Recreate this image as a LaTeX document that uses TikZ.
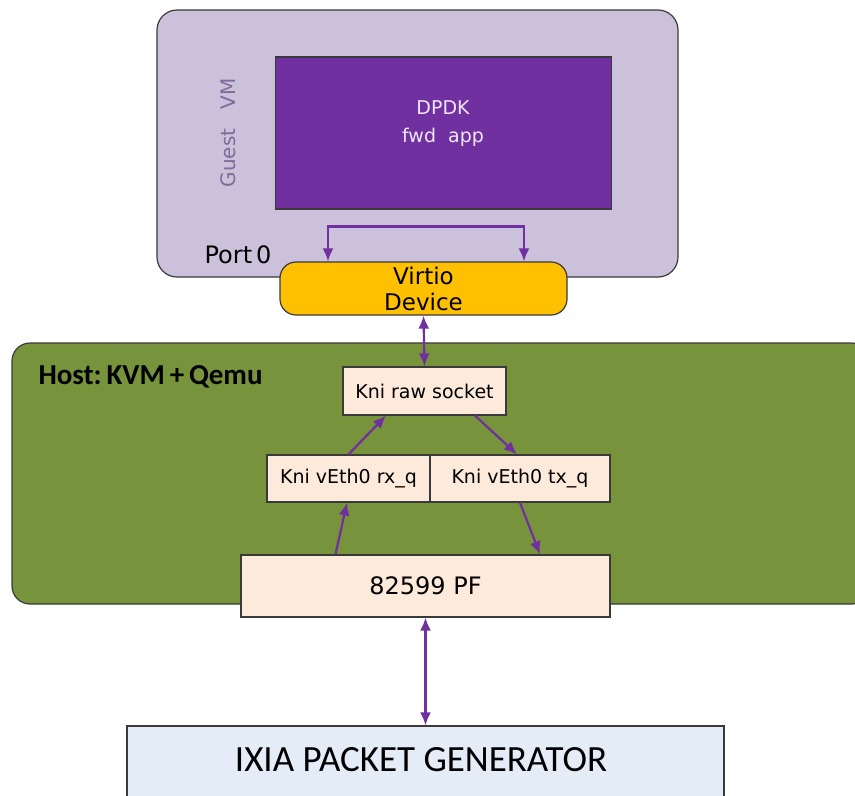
\documentclass[tikz,border=0pt]{standalone}
\usepackage{fontspec}
\setmainfont{DejaVu Sans}
\newfontfamily\calibri{Carlito}
\usetikzlibrary{arrows.meta, positioning}
\definecolor{vmlilac}{HTML}{CCC1DA}
\definecolor{vmtext}{HTML}{7F6A99}
\definecolor{apppurple}{HTML}{7030A0}
\definecolor{virtioamber}{HTML}{FFC000}
\definecolor{hostgreen}{HTML}{77933C}
\definecolor{qpeach}{HTML}{FDEADA}
\definecolor{ixiablue}{HTML}{E4ECF7}
\definecolor{edge}{HTML}{3A3A3A}
\tikzstyle{box}=[draw=edge, line width=1.2pt, fill=qpeach, inner sep=0pt]
\tikzstyle{flow}=[apppurple, line width=2.2pt]
\newcommand{\px}[2]{\fontsize{#1}{#2}\selectfont}

\begin{document}
\begin{tikzpicture}[>={Latex[length=13pt, width=11pt]}, x=1pt, y=-1pt]
\useasboundingbox (0,0) rectangle (855,796);
\clip (0,0) rectangle (855,796);
% guest side
\node[draw=edge, line width=1.2pt, fill=vmlilac, rounded corners=20pt, inner sep=0pt, minimum width=521pt, minimum height=267pt] at (417.5,143.5) (guest_vm) {};
\node[draw=edge, line width=1.2pt, fill=apppurple, inner sep=0pt, minimum width=336pt, minimum height=152pt] at (443.5,133) (dpdk) {};
\node[text=white!88!apppurple, align=center, font=\px{19}{28}] at (443,124) (dpdk_txt) {DPDK\\fwd\ \ app};
\node[rotate=90, text=vmtext, font=\px{20}{22}] at (228,133) (vm_txt) {Guest\ \ \ VM};
\node[font=\px{24}{26}] at (238,255) (port_txt) {Port\,0};
% host side
\node[draw=edge, line width=1.2pt, fill=hostgreen, rounded corners=18pt, inner sep=0pt, minimum width=858pt, minimum height=261pt] at (441,473.5) (host) {};
\node[anchor=west, font=\calibri\bfseries\px{29}{30}] at (35,377) (host_txt) {Host:\,KVM\,+\,Qemu};
\node[box, minimum width=163pt, minimum height=48pt, font=\px{19}{22}] at (424.5,391) (raw_sock) {Kni raw socket};
\node[box, minimum width=163pt, minimum height=47pt, font=\px{19}{22}] at (348.5,478.5) (rx_q) {Kni vEth0 rx\_q};
\node[box, minimum width=180pt, minimum height=47pt, font=\px{19}{22}] at (520,478.5) (tx_q) {Kni vEth0 tx\_q};
\node[box, minimum width=369pt, minimum height=62pt, font=\px{24}{26}] at (425.5,586) (pf) {82599 PF};
\node[draw=edge, line width=1.2pt, fill=virtioamber, rounded corners=16pt, inner sep=0pt, align=center, minimum width=287pt, minimum height=53pt, font=\px{23}{26}] at (423.5,288.5) (virtio) {Virtio\\Device};
% generator
\node[draw=edge, line width=1.2pt, fill=ixiablue, inner sep=0pt, minimum width=597pt, minimum height=110pt] at (425.5,781) (ixia) {};
\node[font=\calibri\px{37}{40}] at (421,760) (ixia_txt) {IXIA PACKET GENERATOR};
% flows
\draw[flow, <->] ([xshift=-95.5pt]virtio.north) -- ++(0,-35) -| ([xshift=100.5pt]virtio.north);
\draw[flow, <->] (virtio.south) -- (raw_sock.north);
\draw[flow, ->] (rx_q.north) -- ([xshift=-38.5pt]raw_sock.south);
\draw[flow, ->] ([xshift=50.5pt]raw_sock.south) -- ([xshift=-3pt]tx_q.north);
\draw[flow, ->] ([xshift=-90pt]pf.north) -- ([xshift=-1.5pt]rx_q.south);
\draw[flow, ->] (tx_q.south) -- ([xshift=114.5pt]pf.north);
\draw[flow, <->] (pf.south) -- (ixia.north);
\end{tikzpicture}
\end{document}
